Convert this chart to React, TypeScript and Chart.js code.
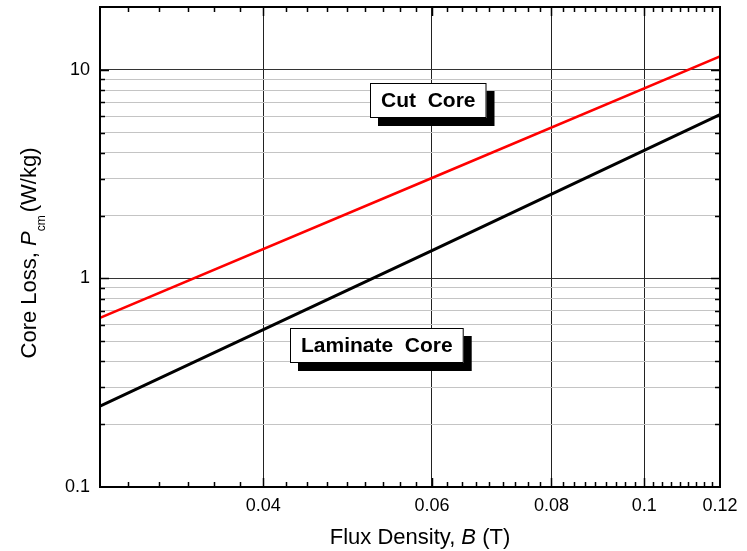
import React, { useEffect, useRef } from "react";
import { Chart, registerables } from "chart.js";

Chart.register(...registerables);

// ---- data ----
const fluxDensity = [0.027, 0.06, 0.12];
const cutCoreLoss = [0.647, 3.03, 11.6];
const laminateCoreLoss = [0.244, 1.36, 6.1];

const xMajorTicks = [0.04, 0.06, 0.08, 0.1, 0.12];
const xMajorLabels = ["0.04", "0.06", "0.08", "0.1", "0.12"];
const yMajorTicks = [0.1, 1, 10];
const yMajorLabels = ["0.1", "1", "10"];

const X_MIN = 0.027;
const X_MAX = 0.12;
const Y_MIN = 0.1;
const Y_MAX = 20;

const seriesNames = ["Cut  Core", "Laminate  Core"];
const labelAnchorX = [0.0595, 0.0526];
const labelAnchorY = [7.14, 0.478];

const FONT = '"Liberation Sans", Arial, Helvetica, sans-serif';

const near = (a: number, b: number) => Math.abs(a - b) <= 1e-6 * Math.abs(b);
const isXMajor = (v: number) => xMajorTicks.some((m) => near(v, m));
const isYMajor = (v: number) => yMajorTicks.some((m) => near(v, m));

function buildXTicks(): number[] {
  const vals: number[] = [];
  const step0 = (xMajorTicks[1] - xMajorTicks[0]) / 9;
  for (let v = xMajorTicks[0] - step0; v >= X_MIN - 1e-12; v -= step0) vals.push(v);
  for (let i = 0; i < xMajorTicks.length; i++) {
    vals.push(xMajorTicks[i]);
    if (i < xMajorTicks.length - 1) {
      const a = xMajorTicks[i];
      const b = xMajorTicks[i + 1];
      for (let k = 1; k <= 8; k++) vals.push(a + (k * (b - a)) / 9);
    }
  }
  return vals.sort((p, q) => p - q);
}

function buildYTicks(): number[] {
  const vals: number[] = [];
  for (let e = -1; e <= 1; e++) {
    for (let d = 1; d <= 9; d++) {
      const v = d * Math.pow(10, e);
      if (v >= Y_MIN - 1e-12 && v <= Y_MAX + 1e-9) vals.push(v);
    }
  }
  return vals;
}

const framePlugin = {
  id: "frameAndDecor",
  afterDatasetsDraw(chart: any) {
    const { ctx, chartArea, scales } = chart;
    const xs = scales.x;
    const ys = scales.y;
    ctx.save();
    // annotation boxes
    ctx.font = `bold 21px ${FONT}`;
    for (let i = 0; i < seriesNames.length; i++) {
      const cx = xs.getPixelForValue(labelAnchorX[i]);
      const cy = ys.getPixelForValue(labelAnchorY[i]);
      const w = ctx.measureText(seriesNames[i]).width + 22;
      const h = 35;
      const x = Math.round(cx - w / 2);
      const y = Math.round(cy - h / 2);
      ctx.fillStyle = "#000";
      ctx.fillRect(x + 8, y + 8, w, h);
      ctx.fillStyle = "#fff";
      ctx.fillRect(x, y, w, h);
      ctx.strokeStyle = "#000";
      ctx.lineWidth = 1;
      ctx.strokeRect(x + 0.5, y + 0.5, w - 1, h - 1);
      ctx.fillStyle = "#000";
      ctx.textAlign = "center";
      ctx.textBaseline = "middle";
      ctx.fillText(seriesNames[i], x + w / 2, y + h / 2 + 1);
    }
    ctx.restore();
  },
  afterDraw(chart: any) {
    const { ctx, chartArea, scales } = chart;
    const { left, right, top, bottom } = chartArea;
    const xs = scales.x;
    const ys = scales.y;
    ctx.save();
    ctx.strokeStyle = "#000";
    // inward ticks
    ctx.lineWidth = 1.5;
    ctx.beginPath();
    for (const t of xs.ticks) {
      const v = t.value;
      if (near(v, X_MIN) || near(v, X_MAX)) continue;
      const px = Math.round(xs.getPixelForValue(v)) + 0.5;
      const len = isXMajor(v) ? 9 : 5;
      ctx.moveTo(px, bottom);
      ctx.lineTo(px, bottom - len);
      ctx.moveTo(px, top);
      ctx.lineTo(px, top + len);
    }
    for (const t of ys.ticks) {
      const v = t.value;
      if (near(v, Y_MIN) || near(v, Y_MAX)) continue;
      const py = Math.round(ys.getPixelForValue(v)) + 0.5;
      const len = isYMajor(v) ? 9 : 5;
      ctx.moveTo(left, py);
      ctx.lineTo(left + len, py);
      ctx.moveTo(right, py);
      ctx.lineTo(right - len, py);
    }
    ctx.stroke();
    // frame
    ctx.lineWidth = 2;
    ctx.strokeRect(left, top, right - left, bottom - top);

    // x title
    ctx.fillStyle = "#000";
    ctx.textBaseline = "alphabetic";
    ctx.textAlign = "left";
    const xParts = [
      { t: "Flux Density, ", f: `22px ${FONT}` },
      { t: "B", f: `italic 22px ${FONT}` },
      { t: " (T)", f: `22px ${FONT}` },
    ];
    let total = 0;
    for (const p of xParts) {
      ctx.font = p.f;
      total += ctx.measureText(p.t).width;
    }
    let sx = (left + right) / 2 + 10 - total / 2;
    const baseY = bottom + 57;
    for (const p of xParts) {
      ctx.font = p.f;
      ctx.fillText(p.t, sx, baseY);
      sx += ctx.measureText(p.t).width;
    }

    // y title (rotated)
    const yParts = [
      { t: "Core Loss, ", f: `22px ${FONT}`, dy: 0, gap: 0 },
      { t: "P", f: `italic 22px ${FONT}`, dy: 0, gap: 0 },
      { t: "cm", f: `12px ${FONT}`, dy: 9, gap: 3 },
      { t: "(W/kg)", f: `22px ${FONT}`, dy: 0, gap: 0 },
    ];
    let ytotal = 0;
    for (const p of yParts) {
      ctx.font = p.f;
      ytotal += ctx.measureText(p.t).width + p.gap;
    }
    ctx.translate(left - 64, (top + bottom) / 2 + 6);
    ctx.rotate(-Math.PI / 2);
    let lx = -ytotal / 2;
    for (const p of yParts) {
      ctx.font = p.f;
      ctx.fillText(p.t, lx, p.dy);
      lx += ctx.measureText(p.t).width + p.gap;
    }
    ctx.restore();
  },
};

export default function App() {
  const canvasRef = useRef<HTMLCanvasElement | null>(null);

  useEffect(() => {
    const canvas = canvasRef.current;
    if (!canvas) return;
    const xTickVals = buildXTicks();
    const yTickVals = buildYTicks();

    const chart = new Chart(canvas, {
      type: "line",
      data: {
        datasets: [
          {
            label: "Cut Core",
            data: fluxDensity.map((x, i) => ({ x, y: cutCoreLoss[i] })),
            borderColor: "#ff0000",
            borderWidth: 2.6,
            pointRadius: 0,
            tension: 0,
            fill: false,
          },
          {
            label: "Laminate Core",
            data: fluxDensity.map((x, i) => ({ x, y: laminateCoreLoss[i] })),
            borderColor: "#000000",
            borderWidth: 3,
            pointRadius: 0,
            tension: 0,
            fill: false,
          },
        ],
      },
      options: {
        animation: false,
        responsive: false,
        devicePixelRatio: 1,
        layout: { padding: { left: 0, right: 27, top: 7, bottom: 0 } },
        plugins: {
          legend: { display: false },
          tooltip: { enabled: false },
          title: { display: false },
        },
        scales: {
          x: {
            type: "logarithmic",
            position: "bottom",
            min: X_MIN,
            max: X_MAX,
            afterBuildTicks: (s: any) => {
              s.ticks = xTickVals.map((v) => ({ value: v }));
            },
            afterFit: (s: any) => {
              s.height = 64;
              s.paddingLeft = 0;
              s.paddingRight = 0;
            },
            ticks: {
              autoSkip: false,
              maxRotation: 0,
              minRotation: 0,
              padding: 8,
              color: "#000",
              font: { family: FONT, size: 18 },
              callback: (v: any) => {
                const i = xMajorTicks.findIndex((m) => near(Number(v), m));
                return i >= 0 ? xMajorLabels[i] : "";
              },
            },
            grid: {
              drawTicks: false,
              lineWidth: 1,
              color: (c: any) => {
                const v = c.tick ? c.tick.value : NaN;
                if (near(v, X_MAX) || near(v, X_MIN)) return "rgba(0,0,0,0)";
                return isXMajor(v) ? "#222222" : "rgba(0,0,0,0)";
              },
            },
            border: { display: false },
          },
          y: {
            type: "logarithmic",
            position: "left",
            min: Y_MIN,
            max: Y_MAX,
            afterBuildTicks: (s: any) => {
              s.ticks = yTickVals.map((v) => ({ value: v }));
            },
            afterFit: (s: any) => {
              s.width = 100;
              s.paddingTop = 0;
              s.paddingBottom = 0;
            },
            ticks: {
              autoSkip: false,
              padding: 10,
              color: "#000",
              font: { family: FONT, size: 18 },
              callback: (v: any) => {
                const i = yMajorTicks.findIndex((m) => near(Number(v), m));
                return i >= 0 ? yMajorLabels[i] : "";
              },
            },
            grid: {
              drawTicks: false,
              lineWidth: 1,
              color: (c: any) => {
                const v = c.tick ? c.tick.value : NaN;
                if (near(v, Y_MIN) || near(v, Y_MAX)) return "rgba(0,0,0,0)";
                return isYMajor(v) ? "#333333" : "#c4c4c4";
              },
            },
            border: { display: false },
          },
        },
      },
      plugins: [framePlugin],
    });
    return () => chart.destroy();
  }, []);

  return (
    <div style={{ position: "fixed", left: 0, top: 0, width: 747, height: 551, background: "#fff" }}>
      <canvas ref={canvasRef} width={747} height={551} style={{ display: "block" }} />
    </div>
  );
}
